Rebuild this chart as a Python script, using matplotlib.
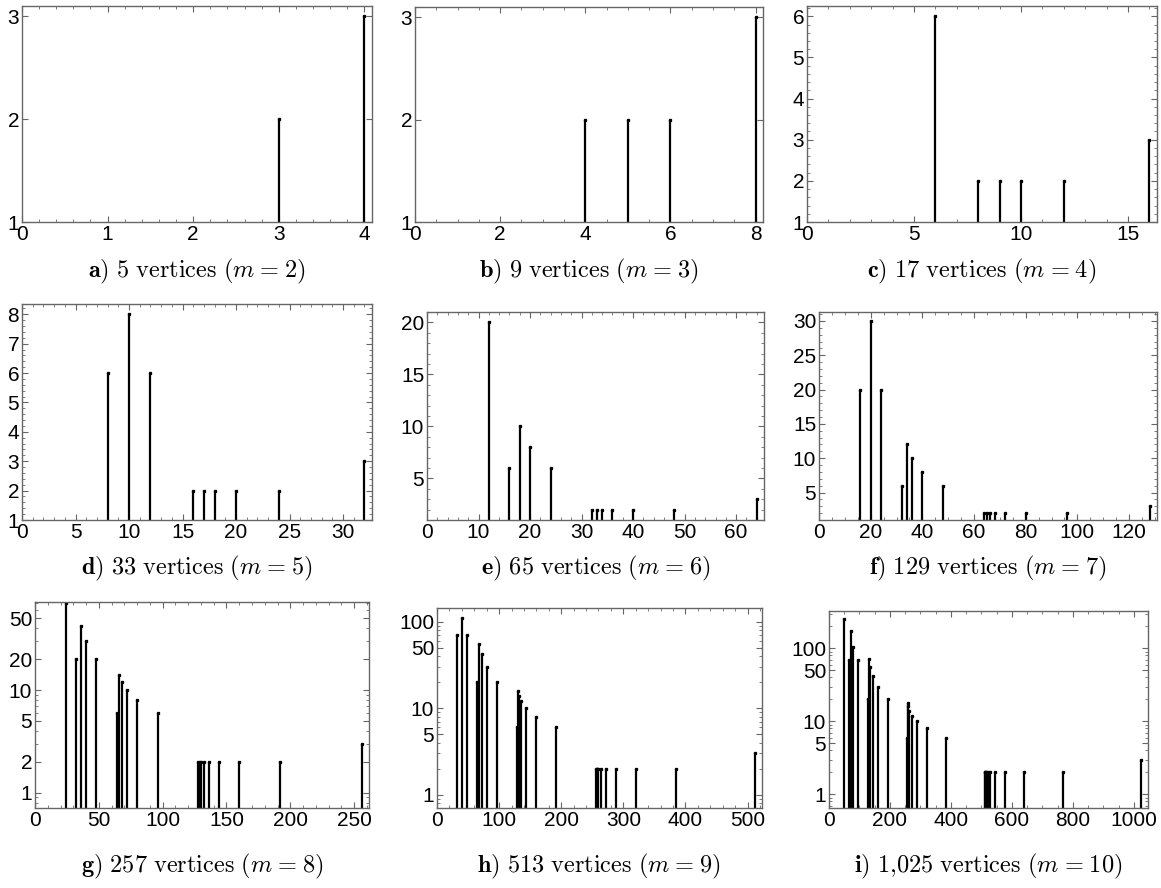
import matplotlib
matplotlib.use("Agg")
import matplotlib.pyplot as plt
import matplotlib.ticker as mticker

plt.rcParams['font.family'] = ['Liberation Sans', 'DejaVu Sans']
plt.rcParams['mathtext.fontset'] = 'cm'

# degree -> number of vertices, one pair of lists per panel
deg_a = [3, 4]
cnt_a = [2, 3]
deg_b = [4, 5, 6, 8]
cnt_b = [2, 2, 2, 3]
deg_c = [6, 8, 9, 10, 12, 16]
cnt_c = [6, 2, 2, 2, 2, 3]
deg_d = [8, 10, 12, 16, 17, 18, 20, 24, 32]
cnt_d = [6, 8, 6, 2, 2, 2, 2, 2, 3]
deg_e = [12, 16, 18, 20, 24, 32, 33, 34, 36, 40, 48, 64]
cnt_e = [20, 6, 10, 8, 6, 2, 2, 2, 2, 2, 2, 3]
deg_f = [16, 20, 24, 32, 34, 36, 40, 48, 64, 65, 66, 68, 72, 80, 96, 128]
cnt_f = [20, 30, 20, 6, 12, 10, 8, 6, 2, 2, 2, 2, 2, 2, 2, 3]
deg_g = [24, 32, 36, 40, 48, 64, 66, 68, 72, 80, 96,
         128, 129, 130, 132, 136, 144, 160, 192, 256]
cnt_g = [70, 20, 42, 30, 20, 6, 14, 12, 10, 8, 6,
         2, 2, 2, 2, 2, 2, 2, 2, 3]
deg_h = [32, 40, 48, 64, 68, 72, 80, 96,
         128, 130, 132, 136, 144, 160, 192,
         256, 257, 258, 260, 264, 272, 288, 320, 384, 512]
cnt_h = [70, 112, 70, 20, 56, 42, 30, 20,
         6, 16, 14, 12, 10, 8, 6,
         2, 2, 2, 2, 2, 2, 2, 2, 2, 3]
deg_i = [48, 64, 72, 80, 96,
         128, 132, 136, 144, 160, 192,
         256, 258, 260, 264, 272, 288, 320, 384,
         512, 513, 514, 516, 520, 528, 544, 576, 640, 768, 1024]
cnt_i = [252, 70, 175, 105, 70,
         20, 72, 56, 42, 30, 20,
         6, 18, 16, 14, 12, 10, 8, 6,
         2, 2, 2, 2, 2, 2, 2, 2, 2, 2, 3]

letters = ['a', 'b', 'c', 'd', 'e', 'f', 'g', 'h', 'i']
n_vertices = ['5', '9', '17', '33', '65', '129', '257', '513', '1{,}025']
m_values = [2, 3, 4, 5, 6, 7, 8, 9, 10]

W, H = 1161, 888
FRAME = '#666666'

# frame boxes in pixels: left, right, top, bottom
boxes = [(22, 372, 6, 222), (415, 763, 7, 222), (807, 1157, 6, 222),
         (22, 372, 304, 520), (427, 764, 312, 520), (819, 1157, 312, 520),
         (35, 369, 602, 808), (437, 762, 608, 808), (829, 1148, 611, 808)]
cap_y = [271, 271, 271, 568, 568, 568, 866, 866, 866]

# per panel: data, log?, ylim, x major, x minor, y ticks, y minor
panels = [
    (deg_a, cnt_a, False, (1, 3.1), 1, 0.2, [1, 2, 3], None),
    (deg_b, cnt_b, False, (1, 3.1), 2, 0.5, [1, 2, 3], None),
    (deg_c, cnt_c, False, (1, 6.25), 5, 1, [1, 2, 3, 4, 5, 6], 0.2),
    (deg_d, cnt_d, False, (1, 8.35), 5, 1, list(range(1, 9)), 0.2),
    (deg_e, cnt_e, False, (1, 21), 10, 2, [5, 10, 15, 20], 1),
    (deg_f, cnt_f, False, (1, 31.3), 20, 5, [5, 10, 15, 20, 25, 30], 1),
    (deg_g, cnt_g, True, (0.71, 72), 50, 10, [1, 2, 5, 10, 20, 50], None),
    (deg_h, cnt_h, True, (0.70, 145), 100, 20, [1, 5, 10, 50, 100], None),
    (deg_i, cnt_i, True, (0.65, 325), 200, 50, [1, 5, 10, 50, 100], None),
]

fig = plt.figure(figsize=(W / 100, H / 100), dpi=100)

for k, (deg, cnt, logy, ylim, xmaj, xmin, yt, ymin) in enumerate(panels):
    l, r, t, b = boxes[k]
    ax = fig.add_axes([l / W, 1 - b / H, (r - l) / W, (b - t) / H])
    if logy:
        ax.set_yscale('log')
    ax.vlines(deg, 0.01, cnt, colors='k', linewidth=1.6)
    ax.plot(deg, cnt, 's', color='k', markersize=1.4)
    ax.set_xlim(0, max(deg) * 1.022)
    ax.set_ylim(*ylim)

    ax.xaxis.set_major_locator(mticker.MultipleLocator(xmaj))
    ax.xaxis.set_minor_locator(mticker.MultipleLocator(xmin))
    ax.yaxis.set_major_locator(mticker.FixedLocator(yt))
    ax.yaxis.set_major_formatter(mticker.FixedFormatter([str(v) for v in yt]))
    if logy:
        ax.yaxis.set_minor_locator(mticker.LogLocator(subs=range(1, 10)))
        ax.yaxis.set_minor_formatter(mticker.NullFormatter())
    elif ymin:
        ax.yaxis.set_minor_locator(mticker.MultipleLocator(ymin))
    else:
        ax.yaxis.set_minor_locator(mticker.NullLocator())

    ax.tick_params(which='both', direction='in', top=True, right=True,
                   color=FRAME, labelsize=15, labelcolor='k', pad=2)
    ax.tick_params(which='major', length=4.5, width=0.8)
    ax.tick_params(which='minor', length=2.3, width=0.6)
    for s in ax.spines.values():
        s.set_color(FRAME)
        s.set_linewidth(1.0)

    cap = (r"$\mathbf{%s)}\ \mathrm{%s\ vertices}\ (m\hspace{0.08}=\hspace{0.08}%d)$"
           % (letters[k], n_vertices[k], m_values[k]))
    fig.text((l + r) / 2 / W, 1 - cap_y[k] / H, cap,
             ha='center', va='center', fontsize=17.5)

plt.savefig('out.png', dpi=100)
